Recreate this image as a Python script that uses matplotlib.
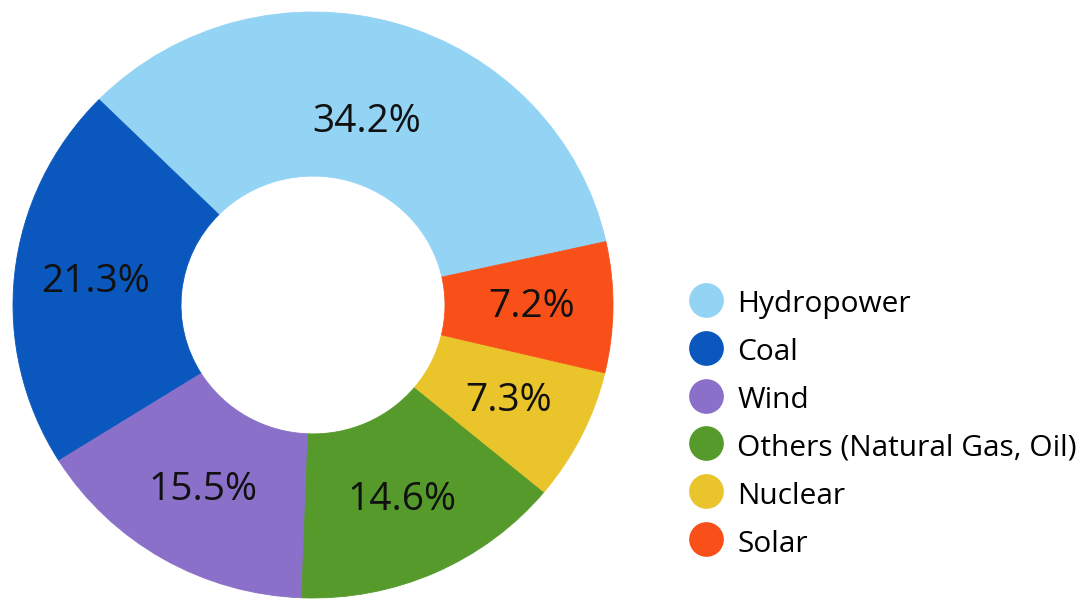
import matplotlib
matplotlib.use("Agg")
import matplotlib.pyplot as plt
from matplotlib.lines import Line2D

plt.rcParams["font.family"] = ["Open Sans", "DejaVu Sans"]

sources = ["Hydropower", "Coal", "Wind", "Others (Natural Gas, Oil)", "Nuclear", "Solar"]
shares = [34.2, 21.3, 15.5, 14.6, 7.3, 7.2]
colors = ["#93d3f4", "#0a58be", "#8a70c8", "#559a2b", "#eac42b", "#f9501a"]

fig = plt.figure(figsize=(10.86, 6), dpi=100)

# donut axes, positioned in pixels (slightly squashed vertically like the original)
W, H = 1086, 600
ax = fig.add_axes([13 / W, 2 / H, 600 / W, 586 / H])

total = sum(shares)
wedges, texts, autotexts = ax.pie(
    shares,
    colors=colors,
    startangle=12.5,
    counterclock=True,
    radius=1.0,
    wedgeprops=dict(width=0.56, linewidth=0.6),
    autopct=lambda p: f"{p * total / 100:.1f}%",
    pctdistance=0.73,
    textprops=dict(fontsize=28, color="#111111"),
)
for w, c in zip(wedges, colors):
    w.set_edgecolor(c)

# hydropower label sits a bit closer to the hole
x, y = autotexts[0].get_position()
autotexts[0].set_position((x * 0.65 / 0.73, y * 0.65 / 0.73))

ax.set_aspect("auto")
ax.set_xlim(-1, 1)
ax.set_ylim(-1, 1)
ax.axis("off")

handles = [
    Line2D([], [], linestyle="none", marker="o", markersize=25, markerfacecolor=c, markeredgewidth=0)
    for c in colors
]
fig.legend(
    handles,
    sources,
    loc="center left",
    bbox_to_anchor=(689 / W, 1 - 423 / H),
    frameon=False,
    fontsize=21.5,
    borderpad=0,
    borderaxespad=0,
    handlelength=1.16,
    handleheight=1.16,
    handletextpad=0.45,
    labelspacing=0.53,
)

fig.savefig("out.png", dpi=100, facecolor="white")
